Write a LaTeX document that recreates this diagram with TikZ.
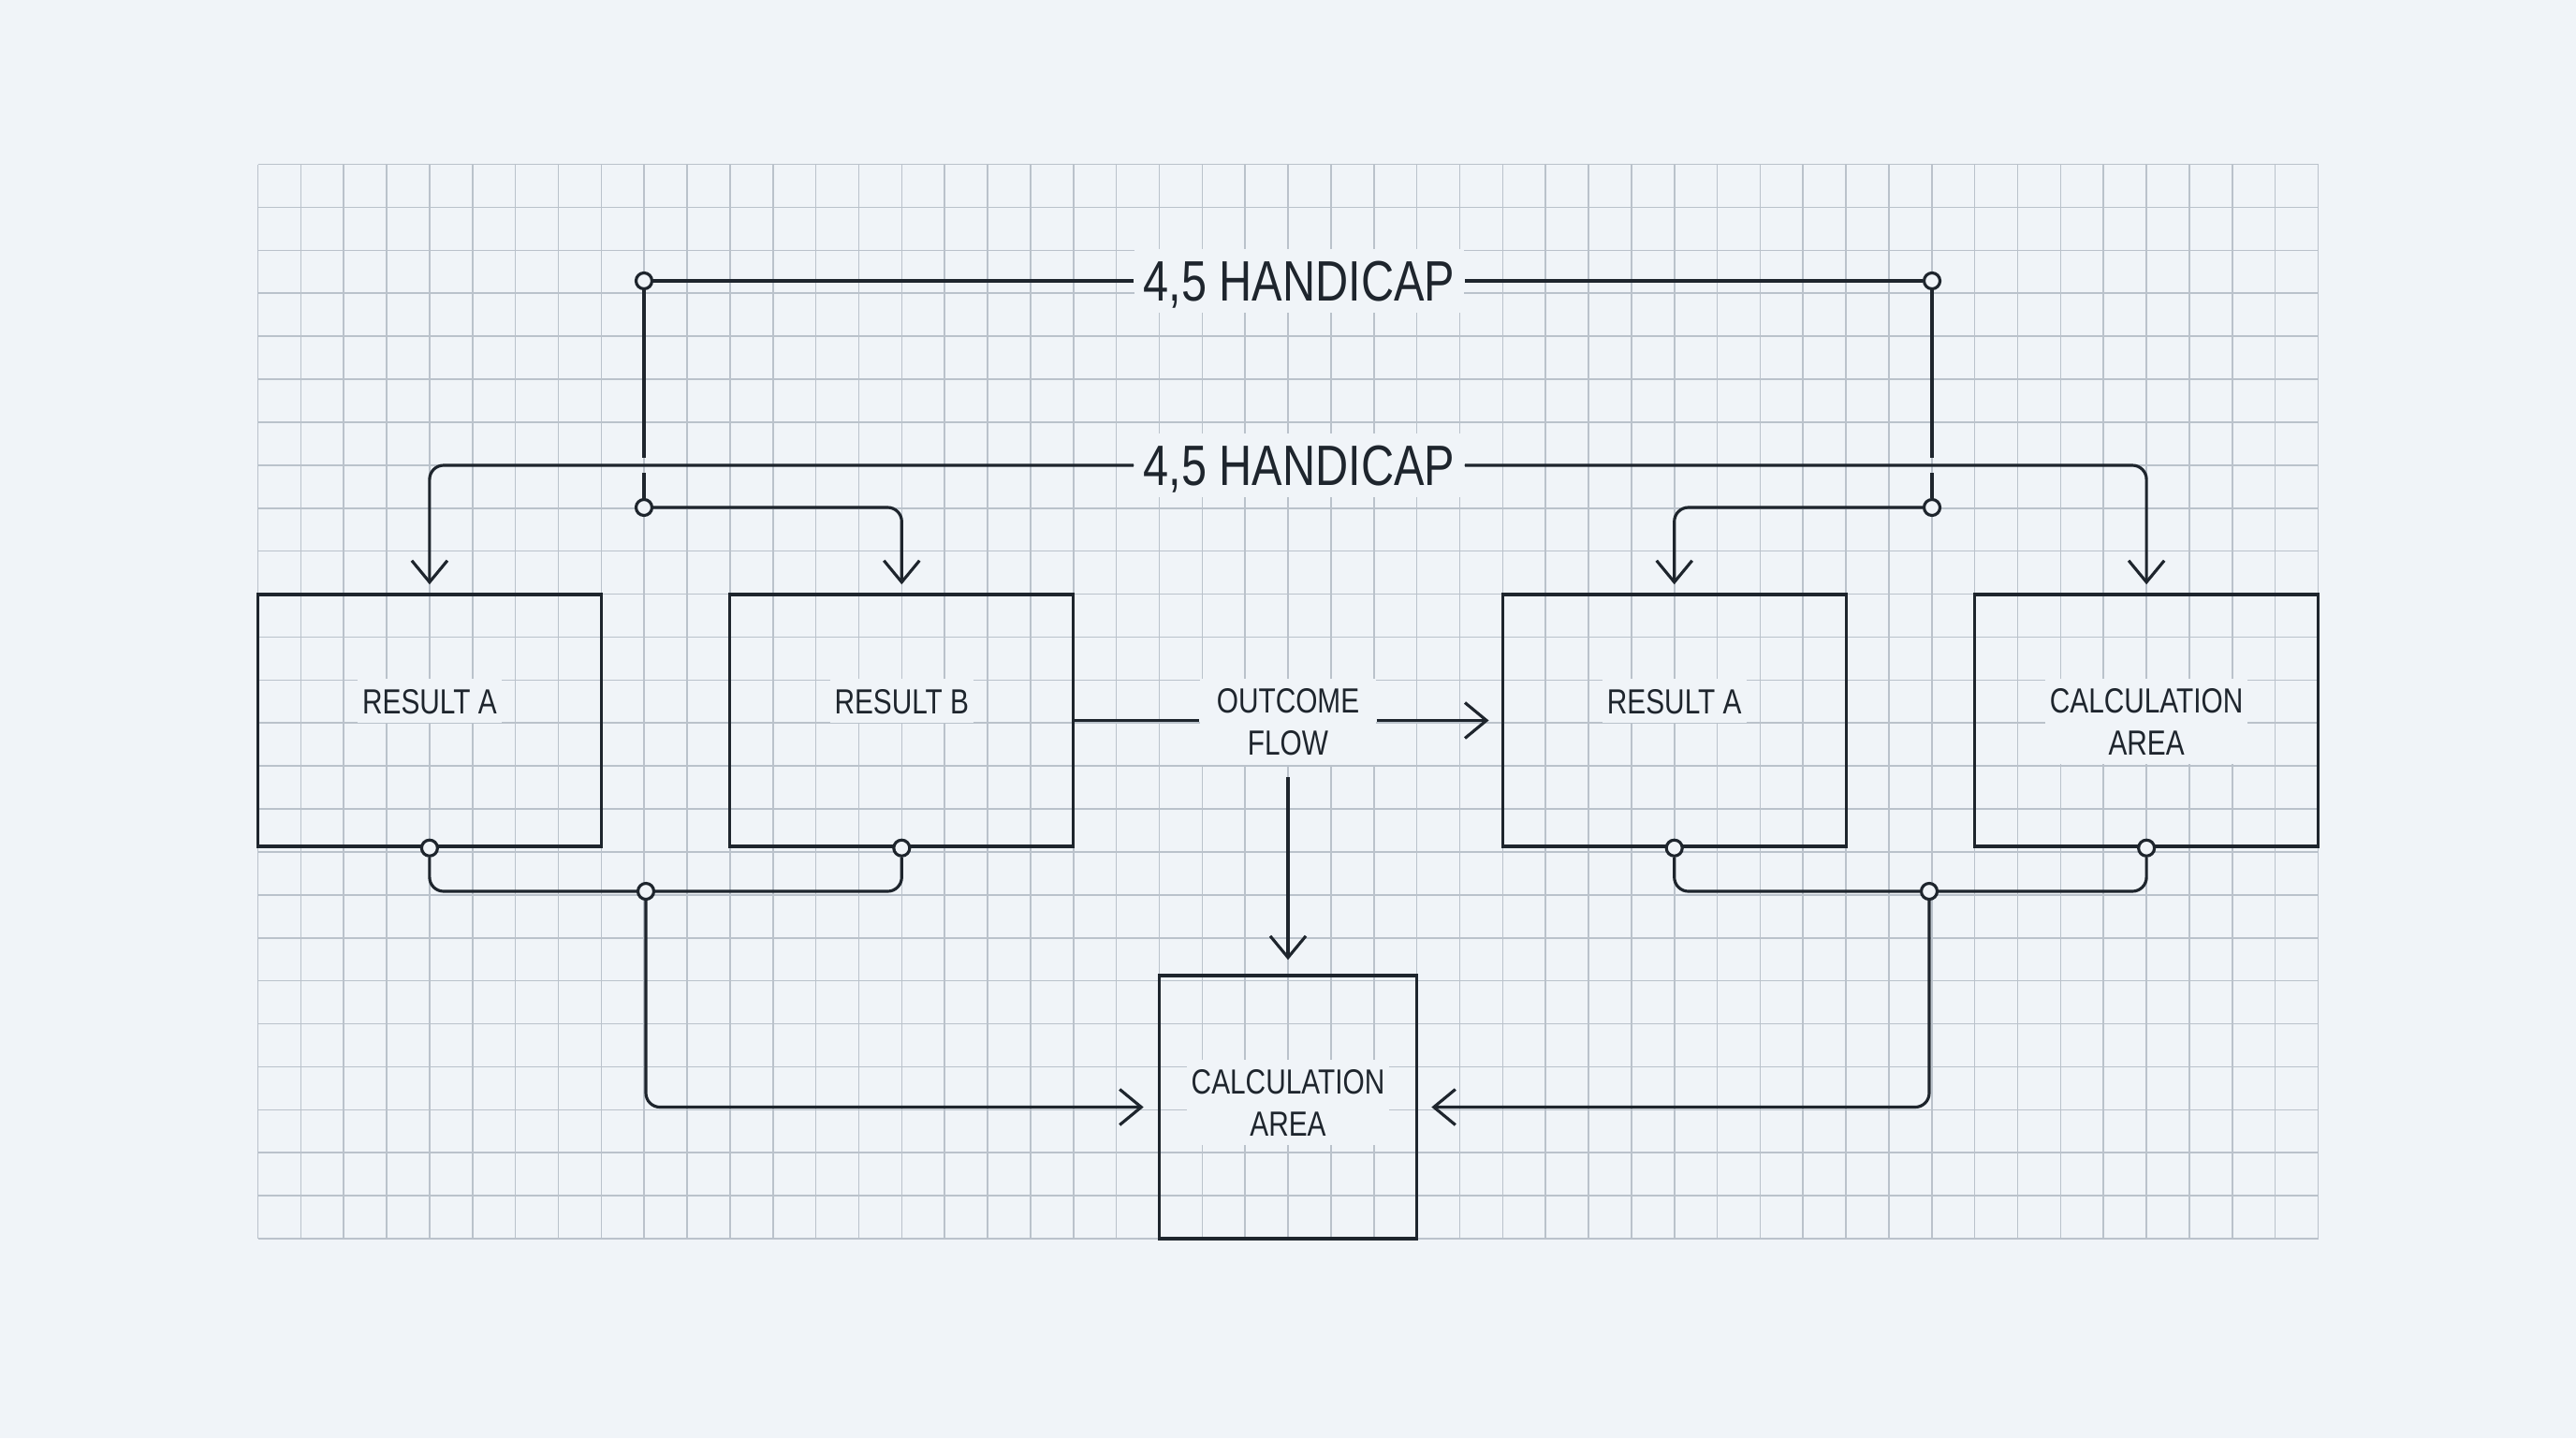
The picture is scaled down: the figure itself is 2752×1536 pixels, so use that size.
\documentclass[tikz,border=0pt]{standalone}
\usepackage{fontspec}
\newfontfamily\labfont[FakeStretch=0.8]{Liberation Sans}
\usetikzlibrary{arrows.meta,calc}
\definecolor{bg}{HTML}{F0F4F8}
\definecolor{gridc}{HTML}{BAC2CB}
\definecolor{ink}{HTML}{1E252D}
\tikzset{
  conn/.style={draw=ink, line width=0.9pt},
  arr/.style={conn, -{Straight Barb[length=0.23cm,width=0.38cm]}},
  rc/.style={rounded corners=0.15cm},
  gridline/.style={draw=gridc, line width=0.45pt},
  boxnode/.style={draw=ink, line width=0.95pt, inner sep=0pt, minimum width=3.668cm, minimum height=2.69cm},
  dot/.style={circle, draw=ink, fill=bg, line width=0.9pt, minimum size=0.17cm, inner sep=0pt},
  boxtext/.style={fill=bg, text=ink, font=\labfont\fontsize{10.6}{12.8}\selectfont, inner xsep=0.05cm, inner ysep=0.1cm},
  single/.style={text height=7.6pt, text depth=0pt},
  bigtext/.style={fill=bg, text=ink, font=\labfont\fontsize{17.3}{20}\selectfont, text height=12.4pt, text depth=0pt, inner xsep=0.1cm, inner ysep=0.12cm}
}
\begin{document}
\begin{tikzpicture}[x=0.01cm, y=-0.01cm]
\fill[bg] (0,0) rectangle (2752,1536);
\useasboundingbox (0,0) rectangle (2752,1536);
% grid
\foreach \i in {0,...,48} \draw[gridline] ({275.5+\i*45.854},175.5) -- ({275.5+\i*45.854},1323);
\foreach \j in {0,...,25} \draw[gridline] (275.5,{175.5+\j*45.9}) -- (2476.5,{175.5+\j*45.9});

% boxes
\node[boxnode] (A1) at (458.9,769.5) {};
\node[boxnode] (B)  at (963.3,769.5) {};
\node[boxnode] (A2) at (1788.7,769.5) {};
\node[boxnode] (C1) at (2293.1,769.5) {};
\node[boxnode, minimum width=2.751cm, minimum height=2.81cm] (C2) at (1376,1182.5) {};

% box texts
\node[boxtext, single] (tA1) at (458.9,748.7) {RESULT A};
\node[boxtext, single] (tB)  at (963.3,748.7) {RESULT B};
\node[boxtext, single] (tA2) at (1788.7,748.7) {RESULT A};
\node[boxtext, align=center] (tC1) at (2293.1,770.5) {CALCULATION\\AREA};
\node[boxtext, align=center] (tC2) at (1376,1177.5) {CALCULATION\\AREA};
\node[boxtext, align=center, inner xsep=0.18cm] (of) at (1376,770.8) {OUTCOME\\FLOW};

% handicap labels
\node[bigtext] (h1) at (1388,300) {4,5 HANDICAP};
\node[bigtext] (h2) at (1388,497) {4,5 HANDICAP};

% junction dots
\node[dot] (c1)  at (688,300) {};
\node[dot] (c2)  at (2064,300) {};
\node[dot] (c1m) at (688,542) {};
\node[dot] (c2m) at (2064,542) {};
\coordinate (g1a) at (688,489);
\coordinate (g1b) at (688,505);
\coordinate (g2a) at (2064,489);
\coordinate (g2b) at (2064,505);

\node[dot] (dA1) at (A1.south) {};
\node[dot] (dB)  at (B.south) {};
\node[dot] (dA2) at (A2.south) {};
\node[dot] (dC1) at (C1.south) {};
\node[dot] (jL) at (690,952) {};
\node[dot] (jR) at (2061,952) {};

% top connectors
\draw[conn] (c1) -- (h1.west);
\draw[conn] (h1.east) -- (c2);
\draw[conn] (c1) -- (g1a);
\draw[conn] (g1b) -- (c1m);
\draw[conn] (c2) -- (g2a);
\draw[conn] (g2b) -- (c2m);
\draw[arr, rc] (h2.west) -| ([yshift=0.09cm]A1.north);
\draw[arr, rc] (h2.east) -| ([yshift=0.09cm]C1.north);
\draw[arr, rc] (c1m) -| ([yshift=0.09cm]B.north);
\draw[arr, rc] (c2m) -| ([yshift=0.09cm]A2.north);

% outcome flow
\draw[conn] (B.east) -- (B.east -| of.west);
\draw[arr] (of.east |- B.east) -- ([xshift=-0.13cm]A2.west);
\draw[arr] ([yshift=-0.13cm]of.south) -- ([yshift=0.15cm]C2.north);

% bottom connectors
\draw[conn, rc] (dA1) |- (jL);
\draw[conn, rc] (dB) |- (jL);
\draw[conn, rc] (dA2) |- (jR);
\draw[conn, rc] (dC1) |- (jR);
\draw[arr, rc] (jL) |- ([xshift=-0.15cm]C2.west);
\draw[arr, rc] (jR) |- ([xshift=0.14cm]C2.east);
\end{tikzpicture}
\end{document}
